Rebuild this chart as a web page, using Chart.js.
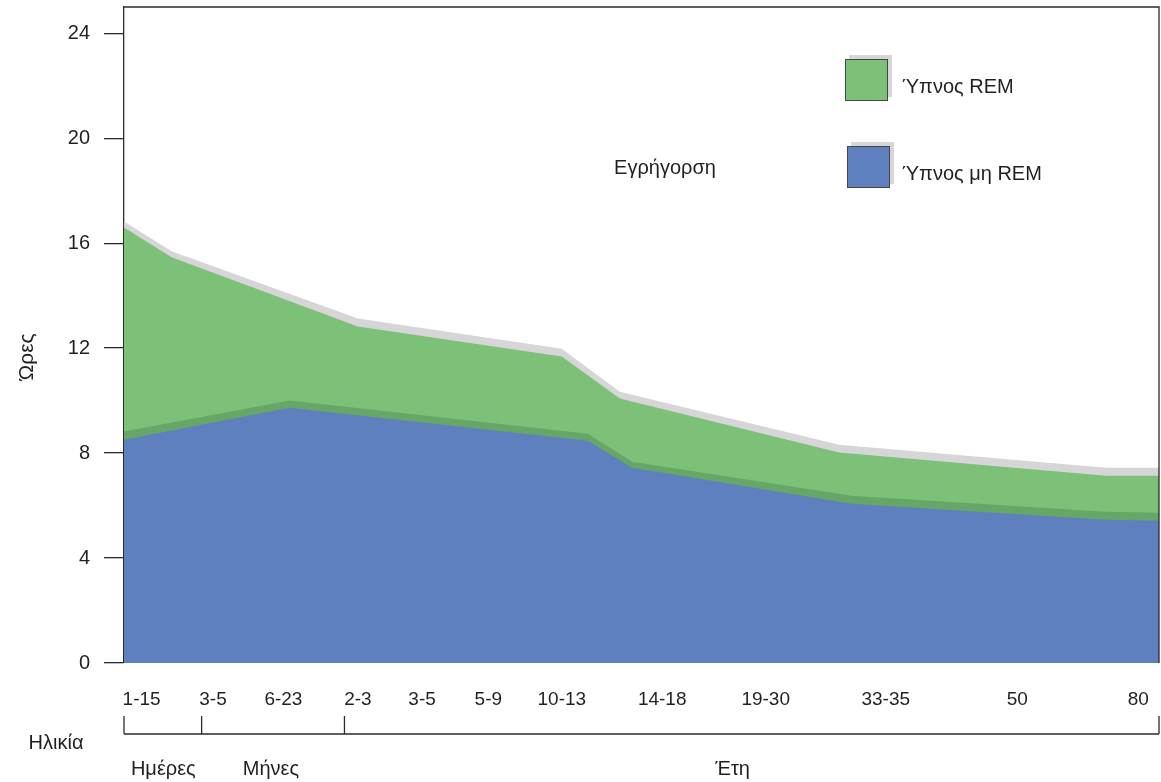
<!DOCTYPE html>
<html>
<head>
<meta charset="utf-8">
<script src="https://cdn.jsdelivr.net/npm/chart.js@4/dist/chart.umd.min.js"></script>
<style>
  html, body { margin: 0; padding: 0; background: #ffffff; }
  #wrap { width: 1161px; height: 782px; position: relative; }
</style>
</head>
<body>
<div id="wrap"><canvas id="c" width="1161" height="782"></canvas></div>
<script>
// ---- Data (position along the age axis: 0..100, hours: 0..25) ----
const tickPositions = [1.7, 8.6, 15.4, 22.6, 28.8, 35.2, 42.3, 52.0, 62.0, 73.6, 86.3, 98.0];
const tickLabels = ['1-15', '3-5', '6-23', '2-3', '3-5', '5-9', '10-13', '14-18', '19-30', '33-35', '50', '80'];
const yTicks = [0, 4, 8, 12, 16, 20, 24];

// lower boundary vertices (non-REM sleep and the darker transition band)
const lowerX = [0, 16.0, 44.8, 49.1, 70.3, 94.9, 100];
const nremHours = [8.51, 9.73, 8.47, 7.44, 6.07, 5.46, 5.42];
const transitionHours = [8.82, 10.00, 8.74, 7.67, 6.37, 5.76, 5.73];

// upper boundary vertices (REM sleep and the light grey edge)
const upperX = [0, 4.6, 22.6, 42.3, 47.9, 69.1, 94.9, 100];
const remHours = [16.60, 15.46, 12.82, 11.68, 10.08, 8.02, 7.14, 7.14];
const edgeHours = [16.83, 15.69, 13.13, 11.98, 10.34, 8.32, 7.44, 7.44];

// age groups under the axis
const groupBounds = [0, 7.5, 21.3, 100];
const groupNames = ['Ημέρες', 'Μήνες', 'Έτη'];
const groupNamePos = [3.8, 14.2, 58.8];

const COLORS = {
  nrem: '#5f80bf',
  trans: '#66a667',
  rem: '#7dc178',
  edge: '#d6d6d8',
  text: '#231f20',
  axis: '#2b2b2b'
};
const FONT = '"Liberation Sans", Arial, Helvetica, sans-serif';

function pts(xs, ys) { return xs.map((x, i) => ({ x: x, y: ys[i] })); }

const decorPlugin = {
  id: 'decor',
  afterDraw(chart) {
    const ctx = chart.ctx;
    const a = chart.chartArea;
    const xs = chart.scales.x;
    ctx.save();
    // frame: top and right
    ctx.strokeStyle = COLORS.axis;
    ctx.lineWidth = 1.3;
    ctx.beginPath();
    ctx.moveTo(a.left, a.top);
    ctx.lineTo(a.right, a.top);
    ctx.lineTo(a.right, a.bottom);
    ctx.stroke();

    // bracket under the axis labels
    const lineY = 734, tickTop = 716;
    ctx.beginPath();
    ctx.moveTo(xs.getPixelForValue(groupBounds[0]), lineY);
    ctx.lineTo(xs.getPixelForValue(groupBounds[groupBounds.length - 1]), lineY);
    groupBounds.forEach(b => {
      const px = xs.getPixelForValue(b);
      ctx.moveTo(px, lineY);
      ctx.lineTo(px, tickTop);
    });
    ctx.stroke();

    ctx.fillStyle = COLORS.text;
    ctx.font = '20px ' + FONT;
    ctx.textBaseline = 'middle';
    ctx.textAlign = 'center';
    groupNames.forEach((n, i) => {
      ctx.fillText(n, xs.getPixelForValue(groupNamePos[i]), 769);
    });
    ctx.fillText('Ηλικία', 56, 743);

    // label of the empty (awake) region
    ctx.fillText('Εγρήγορση', 665, 168);

    // y title
    ctx.save();
    ctx.font = '21px ' + FONT;
    ctx.translate(27, 357);
    ctx.rotate(-Math.PI / 2);
    ctx.fillText('Ώρες', 0, 0);
    ctx.restore();

    // legend
    const items = [
      { ds: chart.data.datasets[2], x: 845, y: 59 },
      { ds: chart.data.datasets[0], x: 847, y: 146 }
    ];
    items.forEach(it => {
      const w = 43, h = 42;
      ctx.fillStyle = COLORS.edge;
      ctx.fillRect(it.x + 4, it.y - 4, w, h);
      ctx.fillStyle = it.ds.backgroundColor;
      ctx.fillRect(it.x, it.y, w, h);
      ctx.strokeStyle = '#444';
      ctx.lineWidth = 1;
      ctx.strokeRect(it.x + 0.5, it.y + 0.5, w - 1, h - 1);
      ctx.fillStyle = COLORS.text;
      ctx.textAlign = 'left';
      ctx.fillText(it.ds.label, 902, it.y + 28);
    });
    ctx.restore();
  }
};

new Chart(document.getElementById('c'), {
  type: 'line',
  data: {
    datasets: [
      { label: 'Ύπνος μη REM', data: pts(lowerX, nremHours), backgroundColor: COLORS.nrem, fill: 'origin' },
      { label: 'Μετάβαση', data: pts(lowerX, transitionHours), backgroundColor: COLORS.trans, fill: 'origin' },
      { label: 'Ύπνος REM', data: pts(upperX, remHours), backgroundColor: COLORS.rem, fill: 'origin' },
      { label: 'Όριο', data: pts(upperX, edgeHours), backgroundColor: COLORS.edge, fill: 'origin' }
    ]
  },
  options: {
    responsive: false,
    animation: false,
    devicePixelRatio: 1,
    layout: { padding: { top: 7, right: 2, left: 0, bottom: 0 } },
    elements: {
      line: { borderWidth: 0, tension: 0, borderColor: 'rgba(0,0,0,0)' },
      point: { radius: 0, hoverRadius: 0 }
    },
    plugins: {
      legend: { display: false },
      tooltip: { enabled: false }
    },
    events: [],
    scales: {
      x: {
        type: 'linear',
        min: 0,
        max: 100,
        grid: { display: false, drawTicks: false, tickLength: 0 },
        border: { display: false },
        afterBuildTicks(s) { s.ticks = tickPositions.map(v => ({ value: v })); },
        afterFit(s) { s.height = 119; s.paddingLeft = 0; s.paddingRight = 0; },
        ticks: {
          autoSkip: false,
          maxRotation: 0,
          padding: 25,
          color: COLORS.text,
          font: { family: FONT, size: 19 },
          callback(v, i) { return tickLabels[i]; }
        }
      },
      y: {
        type: 'linear',
        min: 0,
        max: 25,
        grid: { drawOnChartArea: false, tickLength: 20, color: COLORS.axis, lineWidth: 1.3 },
        border: { display: true, color: COLORS.axis, width: 1.3 },
        afterBuildTicks(s) { s.ticks = yTicks.map(v => ({ value: v })); },
        afterFit(s) { s.width = 124; s.paddingTop = 0; s.paddingBottom = 0; },
        ticks: {
          padding: 14,
          color: COLORS.text,
          font: { family: FONT, size: 20 }
        }
      }
    }
  },
  plugins: [decorPlugin]
});
</script>
</body>
</html>
